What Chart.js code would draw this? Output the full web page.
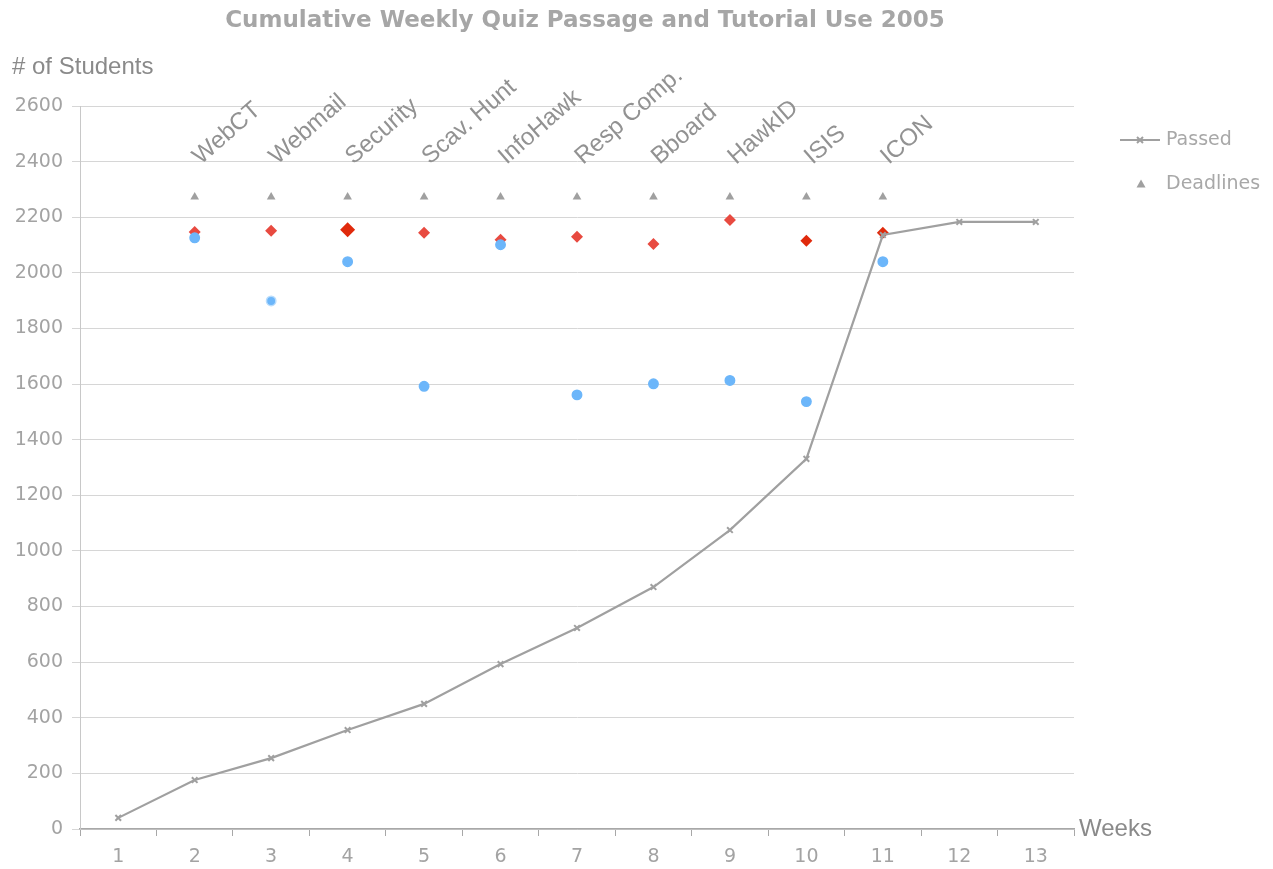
<!DOCTYPE html>
<html>
<head>
<meta charset="utf-8">
<script src="https://cdn.jsdelivr.net/npm/chart.js@4.4.1/dist/chart.umd.min.js"></script>
<style>
  html, body { margin: 0; padding: 0; background: #ffffff; }
  #wrap { width: 1273px; height: 869px; position: relative; }
</style>
</head>
<body>
<div id="wrap"><canvas id="c" width="1273" height="869"></canvas></div>
<script>
// ---- data ----
const weeks = ['1','2','3','4','5','6','7','8','9','10','11','12','13'];
const passed = [40, 176, 255, 356, 450, 593, 723, 870, 1075, 1331, 2136, 2183, 2183];
const deadlines = [null, 2273, 2273, 2273, 2273, 2273, 2273, 2273, 2273, 2273, 2273, null, null];
const tutorialRed = [null, 2147, 2151, 2155, 2144, 2119, 2130, 2104, 2190, 2115, 2144, null, null];
const tutorialBlue = [null, 2126, 1899, 2040, 1592, 2101, 1561, 1601, 1613, 1537, 2040, null, null];
const tutorialNames = [null, 'WebCT', 'Webmail', 'Security', 'Scav. Hunt', 'InfoHawk', 'Resp Comp.', 'Bboard', 'HawkID', 'ISIS', 'ICON', null, null];
const yTicks = [0, 200, 400, 600, 800, 1000, 1200, 1400, 1600, 1800, 2000, 2200, 2400, 2600];

const GRAY = '#a0a0a0';
const redNormal = '#e84a40', redDark = '#e02a0c';
const redColors = [null, redNormal, redNormal, redDark, redNormal, redNormal, redNormal, redNormal, redNormal, redDark, redDark, null, null];
const redRadius = [0, 6, 6, 7.5, 6, 6, 6, 6, 6, 6, 6, 0, 0];
const blueBorder = ['#6cb6fa','#6cb6fa','#b8dcfc','#6cb6fa','#6cb6fa','#6cb6fa','#6cb6fa','#6cb6fa','#6cb6fa','#6cb6fa','#6cb6fa','#6cb6fa','#6cb6fa'];

const decorPlugin = {
  id: 'decor',
  afterDraw(chart) {
    const ctx = chart.ctx;
    const x = chart.scales.x;
    ctx.save();
    // title
    ctx.fillStyle = '#a6a6a6';
    ctx.font = 'bold 23px "DejaVu Sans"';
    ctx.textAlign = 'center';
    ctx.textBaseline = 'middle';
    ctx.fillText('Cumulative Weekly Quiz Passage and Tutorial Use 2005', 585, 21);
    // axis titles
    ctx.fillStyle = '#8a8a8a';
    ctx.font = '24px "Liberation Sans"';
    ctx.textAlign = 'left';
    ctx.textBaseline = 'alphabetic';
    ctx.fillText('# of Students', 12, 74);
    ctx.textBaseline = 'middle';
    ctx.fillText('Weeks', chart.chartArea.right + 5, chart.chartArea.bottom);
    // tutorial labels
    ctx.fillStyle = '#929292';
    ctx.font = '24px "Liberation Sans"';
    ctx.textBaseline = 'alphabetic';
    tutorialNames.forEach((name, i) => {
      if (!name) return;
      const px = x.getPixelForValue(i) + 6;
      ctx.save();
      ctx.translate(px, 165);
      ctx.rotate(-41 * Math.PI / 180);
      ctx.fillText(name, 0, 0);
      ctx.restore();
    });
    // legend
    const ds0 = chart.data.datasets[0], ds1 = chart.data.datasets[1];
    ctx.strokeStyle = ds0.borderColor;
    ctx.lineWidth = 2;
    ctx.beginPath(); ctx.moveTo(1120, 140); ctx.lineTo(1160, 140); ctx.stroke();
    ctx.beginPath();
    ctx.moveTo(1137, 137); ctx.lineTo(1143, 143);
    ctx.moveTo(1143, 137); ctx.lineTo(1137, 143);
    ctx.stroke();
    ctx.fillStyle = ds1.backgroundColor;
    ctx.beginPath(); ctx.moveTo(1141, 179.5); ctx.lineTo(1145.5, 187.5); ctx.lineTo(1136.5, 187.5); ctx.closePath(); ctx.fill();
    ctx.fillStyle = '#a8a8a8';
    ctx.font = '19px "DejaVu Sans"';
    ctx.textAlign = 'left';
    ctx.textBaseline = 'middle';
    ctx.fillText(ds0.label, 1166, 140);
    ctx.fillText(ds1.label, 1166, 184);
    ctx.restore();
  }
};

new Chart(document.getElementById('c'), {
  type: 'line',
  data: {
    labels: weeks,
    datasets: [
      {
        label: 'Passed', data: passed,
        borderColor: GRAY, backgroundColor: GRAY, borderWidth: 2.2,
        pointStyle: 'crossRot', pointRadius: 4, pointBorderWidth: 2,
        pointBorderColor: GRAY, tension: 0, order: 1
      },
      {
        label: 'Deadlines', data: deadlines, showLine: false,
        pointStyle: 'triangle', pointRadius: 5, borderWidth: 0,
        backgroundColor: GRAY, borderColor: GRAY, pointBorderWidth: 0, order: 4
      },
      {
        label: 'Tutorial A', data: tutorialRed, showLine: false,
        pointStyle: 'rectRot', pointRadius: redRadius, pointBorderWidth: 0,
        pointBackgroundColor: redColors, pointBorderColor: redColors, order: 3
      },
      {
        label: 'Tutorial B', data: tutorialBlue, showLine: false,
        pointStyle: 'circle', pointRadius: 4.7, pointBorderWidth: 1.5,
        pointBackgroundColor: '#6cb6fa', pointBorderColor: blueBorder, order: 2
      }
    ]
  },
  options: {
    responsive: false,
    animation: false,
    events: [],
    layout: { padding: { top: 106, left: 0, right: 199, bottom: 0 } },
    plugins: { legend: { display: false }, title: { display: false }, tooltip: { enabled: false } },
    scales: {
      x: {
        type: 'category',
        offset: true,
        afterFit(s) { s.height = 40; },
        grid: { offset: true, drawOnChartArea: false, drawTicks: true, tickLength: 7, color: '#a8a8a8', lineWidth: 1 },
        border: { color: '#a8a8a8', width: 1.5 },
        ticks: { color: '#a3a3a3', font: { family: 'DejaVu Sans', size: 19 }, padding: 10, maxRotation: 0 }
      },
      y: {
        min: 0, max: 2600,
        afterFit(s) { s.width = 80; },
        afterBuildTicks(s) { s.ticks = yTicks.map(v => ({ value: v })); },
        grid: { color: '#d6d6d6', lineWidth: 1, tickLength: 8, drawTicks: true },
        border: { color: '#c8c8c8', width: 1 },
        ticks: { color: '#a3a3a3', font: { family: 'DejaVu Sans', size: 19 }, padding: 9, callback: (v) => String(v) }
      }
    }
  },
  plugins: [decorPlugin]
});
</script>
</body>
</html>
